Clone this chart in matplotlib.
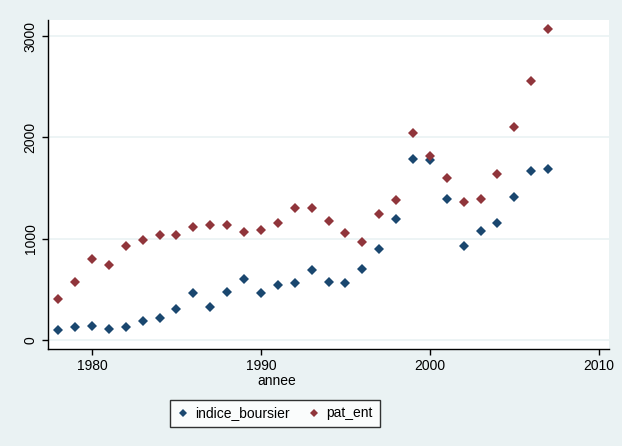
import matplotlib.pyplot as plt
import matplotlib.ticker as mticker

plt.rcParams['font.family'] = ['Liberation Sans', 'DejaVu Sans']

# data
annee = list(range(1978, 2008))
indice_boursier = [99, 125, 141, 112, 125, 191, 214, 303, 464, 329,
                   477, 602, 464, 540, 563, 691, 576, 563, 704, 901,
                   1191, 1790, 1777, 1392, 928, 1079, 1155, 1415, 1665, 1691]
pat_ent = [402, 576, 803, 740, 928, 987, 1040, 1040, 1115, 1138,
           1138, 1063, 1089, 1155, 1303, 1303, 1178, 1053, 964, 1241,
           1379, 2040, 1816, 1602, 1365, 1387, 1642, 2106, 2554, 3067]

bg = "#eaf2f3"
navy = "#1a476f"
maroon = "#90353b"

fig = plt.figure(figsize=(6.22, 4.46), dpi=100, facecolor=bg)
ax = fig.add_axes([48 / 622, 1 - 349 / 446, 561 / 622, 329 / 446])
ax.set_facecolor("white")

ax.plot(annee, indice_boursier, linestyle="none", marker="D", markersize=5,
        color=navy, markeredgewidth=0, label="indice_boursier")
ax.plot(annee, pat_ent, linestyle="none", marker="D", markersize=5,
        color=maroon, markeredgewidth=0, label="pat_ent")

ax.set_xlim(1977.4, 2010.6)
ax.set_ylim(-89, 3159)
ax.xaxis.set_major_locator(mticker.MultipleLocator(10))
ax.yaxis.set_major_locator(mticker.MultipleLocator(1000))
ax.grid(axis="y", color=bg, linewidth=1.2)
ax.set_axisbelow(True)

for s in ["top", "right"]:
    ax.spines[s].set_visible(False)
for s in ["left", "bottom"]:
    ax.spines[s].set_color("black")
    ax.spines[s].set_linewidth(1)

ax.tick_params(axis="both", direction="out", length=4, width=1,
               labelsize=10, colors="black")
for lab in ax.get_yticklabels():
    lab.set_rotation(90)
    lab.set_va("center")

ax.set_xlabel("annee", fontsize=10)
ax.xaxis.set_label_coords(0.408, -0.075)

fig.legend(loc="center", bbox_to_anchor=(275 / 622, 1 - 413.5 / 446),
           ncol=2, frameon=True, fancybox=False, edgecolor="black",
           fontsize=10, handlelength=0.8, handletextpad=0.5,
           columnspacing=1.3, markerscale=0.8, borderpad=0.5,
           borderaxespad=0)

fig.savefig("out.png", dpi=100, facecolor=bg)
